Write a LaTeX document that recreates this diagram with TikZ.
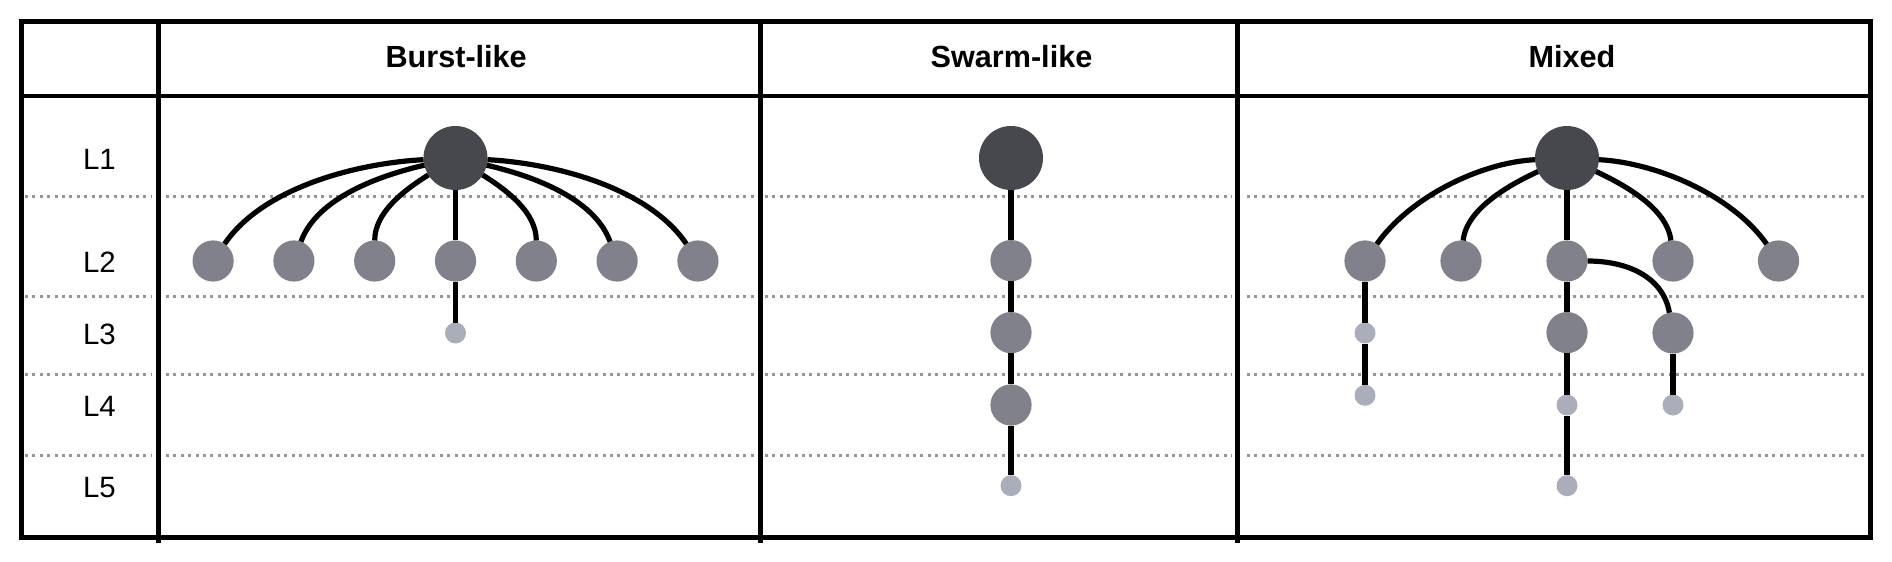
\documentclass[tikz,border=0pt]{standalone}
\usepackage{fontspec}
\setmainfont{Liberation Sans}
\definecolor{rootc}{RGB}{71,72,78}
\definecolor{midc}{RGB}{128,129,139}
\definecolor{leafc}{RGB}{170,173,186}
\definecolor{dotgray}{RGB}{150,150,150}
\begin{document}
\begin{tikzpicture}[x=0.5pt,y=0.5pt,
  outerbox/.style={line width=2.6pt},
  divider/.style={line width=2.4pt},
  hline/.style={line width=2pt},
  dots/.style={draw=dotgray, line width=1.5pt, dash pattern=on 1.5pt off 2.2pt},
  edge/.style={line width=2.6pt, draw=black},
  rootnode/.style={circle, fill=rootc, minimum size=32pt, inner sep=0pt, outer sep=0pt},
  midnode/.style={circle, fill=midc, minimum size=20.6pt, inner sep=0pt, outer sep=0pt},
  leafnode/.style={circle, fill=leafc, minimum size=10.5pt, inner sep=0pt, outer sep=0pt},
  head/.style={font=\bfseries\fontsize{15.3}{18}\selectfont, anchor=base, inner sep=0pt},
  lvl/.style={font=\fontsize{14.7}{17}\selectfont, anchor=base, inner sep=0pt}
]
\useasboundingbox (0,0) rectangle (1892,-562);

% dotted level separators
\foreach \yy in {196.5,296.7,374,455.5}{
  \draw[dots] (25,-\yy) -- (151,-\yy);
  \draw[dots] (166,-\yy) -- (756,-\yy);
  \draw[dots] (765,-\yy) -- (1232,-\yy);
  \draw[dots] (1247,-\yy) -- (1866,-\yy);
}

% table frame
\draw[hline] (21.7,-96) -- (1870.8,-96);
\draw[divider] (158.3,-21.7) -- (158.3,-543);
\draw[divider] (760.8,-21.7) -- (760.8,-543);
\draw[divider] (1237.5,-21.7) -- (1237.5,-543);
\draw[outerbox] (21.7,-21.7) rectangle (1870.8,-537.5);

% headers
\node[head] (hb) at (456.2,-67.3) {Burst-like};
\node[head] (hs) at (1011.5,-67.3) {Swarm-like};
\node[head] (hm) at (1572,-67.3) {Mixed};

% level labels
\node[lvl] (l1) at (99.5,-169.5) {L1};
\node[lvl] (l2) at (99.5,-272.5) {L2};
\node[lvl] (l3) at (99.5,-344) {L3};
\node[lvl] (l4) at (99.5,-416.7) {L4};
\node[lvl] (l5) at (99.5,-497.3) {L5};

% Burst-like
\node[rootnode] (b0) at (455.5,-158) {};
\node[midnode] (b1) at (213.1,-261) {};
\node[midnode] (b2) at (293.9,-261) {};
\node[midnode] (b3) at (374.7,-261) {};
\node[midnode] (b4) at (455.5,-261) {};
\node[midnode] (b5) at (536.3,-261) {};
\node[midnode] (b6) at (617.1,-261) {};
\node[midnode] (b7) at (697.9,-261) {};
\node[leafnode] (b8) at (455.5,-333) {};
\draw[edge] (b0) to[out=183,in=56,looseness=0.8] (b1);
\draw[edge] (b0) to[out=193,in=70,looseness=0.82] (b2);
\draw[edge] (b0) to[out=212,in=90,looseness=0.85] (b3);
\draw[edge] (b0) -- (b4);
\draw[edge] (b0) to[out=-32,in=90,looseness=0.85] (b5);
\draw[edge] (b0) to[out=-13,in=110,looseness=0.82] (b6);
\draw[edge] (b0) to[out=-3,in=124,looseness=0.8] (b7);
\draw[edge] (b4) -- (b8);

% Swarm-like
\node[rootnode] (s0) at (1011,-158) {};
\node[midnode] (s1) at (1011,-260.6) {};
\node[midnode] (s2) at (1011,-332.6) {};
\node[midnode] (s3) at (1011,-405) {};
\node[leafnode] (s4) at (1011,-485.7) {};
\draw[edge] (s0) -- (s1);
\draw[edge] (s1) -- (s2);
\draw[edge] (s2) -- (s3);
\draw[edge] (s3) -- (s4);

% Mixed
\node[rootnode] (m0) at (1567,-158) {};
\node[midnode] (m1) at (1365,-261) {};
\node[midnode] (m2) at (1461,-261) {};
\node[midnode] (m3) at (1567,-261) {};
\node[midnode] (m4) at (1673,-261) {};
\node[midnode] (m5) at (1778.5,-261) {};
\node[leafnode] (m6) at (1365,-333) {};
\node[leafnode] (m7) at (1365,-395.3) {};
\node[midnode] (m8) at (1567,-332.6) {};
\node[midnode] (m9) at (1673,-333) {};
\node[leafnode] (m10) at (1567,-405) {};
\node[leafnode] (m11) at (1673,-405) {};
\node[leafnode] (m12) at (1567,-485.7) {};
\draw[edge] (m0) to[out=183,in=55,looseness=0.8] (m1);
\draw[edge] (m0) to[out=205,in=84,looseness=0.8] (m2);
\draw[edge] (m0) -- (m3);
\draw[edge] (m0) to[out=-25,in=96,looseness=0.8] (m4);
\draw[edge] (m0) to[out=-3,in=125,looseness=0.8] (m5);
\draw[edge] (m1) -- (m6);
\draw[edge] (m6) -- (m7);
\draw[edge] (m3) -- (m8);
\draw[edge] (m3) to[out=0,in=100] (m9);
\draw[edge] (m8) -- (m10);
\draw[edge] (m10) -- (m12);
\draw[edge] (m9) -- (m11);
\end{tikzpicture}
\end{document}
